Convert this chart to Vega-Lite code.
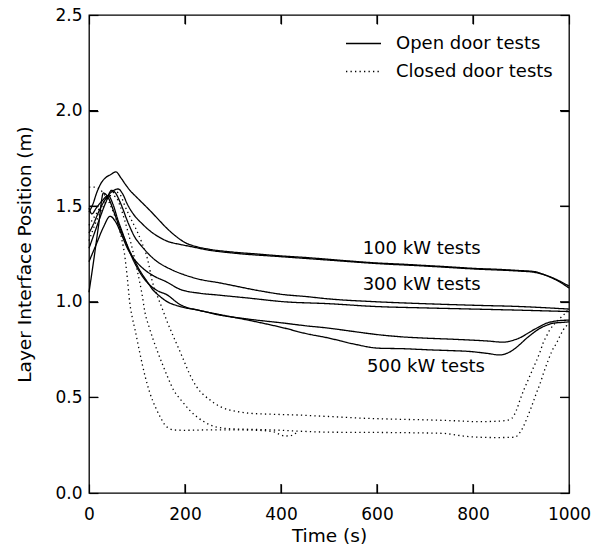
{
"$schema": "https://vega.github.io/schema/vega-lite/v6.json",
"width": 480,
"height": 478,
"autosize": {"type": "none"},
"padding": {"left": 89, "top": 15, "right": 31, "bottom": 59},
"background": "white",
"config": {
  "view": {"stroke": "black", "strokeWidth": 1.3},
  "font": "DejaVu Sans",
  "axis": {"domain": false, "grid": false, "tickColor": "black", "tickWidth": 1.2, "tickSize": -9, "labelFont": "DejaVu Sans", "labelFontSize": 17, "labelColor": "black", "titleFont": "DejaVu Sans", "titleFontSize": 18.5, "titleFontWeight": "normal", "titleColor": "black"}
},
"datasets": {
  "xticks": [{"time": 200}, {"time": 400}, {"time": 600}, {"time": 800}],
  "yticks": [{"height": 0.5}, {"height": 1.0}, {"height": 1.5}, {"height": 2.0}],
  "labels": [
    {"label": "100 kW tests", "time": 693, "height": 1.277},
    {"label": "300 kW tests", "time": 693, "height": 1.089},
    {"label": "500 kW tests", "time": 702, "height": 0.661}
  ],
  "curves": [
{"run":"100a","door":"Open door tests","time":0,"height":1.47},{"run":"100a","door":"Open door tests","time":8,"height":1.51},{"run":"100a","door":"Open door tests","time":16,"height":1.57},{"run":"100a","door":"Open door tests","time":25,"height":1.62},{"run":"100a","door":"Open door tests","time":35,"height":1.65},{"run":"100a","door":"Open door tests","time":45,"height":1.665},{"run":"100a","door":"Open door tests","time":56,"height":1.68},{"run":"100a","door":"Open door tests","time":66,"height":1.65},{"run":"100a","door":"Open door tests","time":77,"height":1.61},{"run":"100a","door":"Open door tests","time":88,"height":1.575},{"run":"100a","door":"Open door tests","time":98,"height":1.55},{"run":"100a","door":"Open door tests","time":112,"height":1.515},{"run":"100a","door":"Open door tests","time":126,"height":1.48},{"run":"100a","door":"Open door tests","time":143,"height":1.435},{"run":"100a","door":"Open door tests","time":160,"height":1.39},{"run":"100a","door":"Open door tests","time":180,"height":1.345},{"run":"100a","door":"Open door tests","time":200,"height":1.31},{"run":"100a","door":"Open door tests","time":225,"height":1.288},{"run":"100a","door":"Open door tests","time":250,"height":1.275},{"run":"100a","door":"Open door tests","time":300,"height":1.26},{"run":"100a","door":"Open door tests","time":350,"height":1.25},{"run":"100a","door":"Open door tests","time":400,"height":1.24},{"run":"100a","door":"Open door tests","time":450,"height":1.232},{"run":"100a","door":"Open door tests","time":500,"height":1.222},{"run":"100a","door":"Open door tests","time":550,"height":1.212},{"run":"100a","door":"Open door tests","time":600,"height":1.203},{"run":"100a","door":"Open door tests","time":650,"height":1.197},{"run":"100a","door":"Open door tests","time":700,"height":1.19},{"run":"100a","door":"Open door tests","time":750,"height":1.183},{"run":"100a","door":"Open door tests","time":800,"height":1.175},{"run":"100a","door":"Open door tests","time":850,"height":1.17},{"run":"100a","door":"Open door tests","time":900,"height":1.163},{"run":"100a","door":"Open door tests","time":926,"height":1.159},{"run":"100a","door":"Open door tests","time":945,"height":1.145},{"run":"100a","door":"Open door tests","time":960,"height":1.13},{"run":"100a","door":"Open door tests","time":980,"height":1.105},{"run":"100a","door":"Open door tests","time":1000,"height":1.072},
{"run":"100b","door":"Open door tests","time":0,"height":1.36},{"run":"100b","door":"Open door tests","time":10,"height":1.41},{"run":"100b","door":"Open door tests","time":20,"height":1.47},{"run":"100b","door":"Open door tests","time":35,"height":1.54},{"run":"100b","door":"Open door tests","time":50,"height":1.58},{"run":"100b","door":"Open door tests","time":61,"height":1.59},{"run":"100b","door":"Open door tests","time":70,"height":1.565},{"run":"100b","door":"Open door tests","time":80,"height":1.51},{"run":"100b","door":"Open door tests","time":95,"height":1.45},{"run":"100b","door":"Open door tests","time":110,"height":1.41},{"run":"100b","door":"Open door tests","time":125,"height":1.375},{"run":"100b","door":"Open door tests","time":145,"height":1.34},{"run":"100b","door":"Open door tests","time":165,"height":1.315},{"run":"100b","door":"Open door tests","time":190,"height":1.3},{"run":"100b","door":"Open door tests","time":220,"height":1.285},{"run":"100b","door":"Open door tests","time":245,"height":1.272},{"run":"100b","door":"Open door tests","time":300,"height":1.255},{"run":"100b","door":"Open door tests","time":400,"height":1.236},{"run":"100b","door":"Open door tests","time":500,"height":1.218},{"run":"100b","door":"Open door tests","time":600,"height":1.2},{"run":"100b","door":"Open door tests","time":700,"height":1.187},{"run":"100b","door":"Open door tests","time":800,"height":1.172},{"run":"100b","door":"Open door tests","time":900,"height":1.16},{"run":"100b","door":"Open door tests","time":926,"height":1.155},{"run":"100b","door":"Open door tests","time":950,"height":1.14},{"run":"100b","door":"Open door tests","time":975,"height":1.115},{"run":"100b","door":"Open door tests","time":1000,"height":1.082},
{"run":"300a","door":"Open door tests","time":0,"height":1.28},{"run":"300a","door":"Open door tests","time":10,"height":1.35},{"run":"300a","door":"Open door tests","time":20,"height":1.42},{"run":"300a","door":"Open door tests","time":35,"height":1.52},{"run":"300a","door":"Open door tests","time":47,"height":1.583},{"run":"300a","door":"Open door tests","time":55,"height":1.57},{"run":"300a","door":"Open door tests","time":65,"height":1.52},{"run":"300a","door":"Open door tests","time":82,"height":1.41},{"run":"300a","door":"Open door tests","time":95,"height":1.34},{"run":"300a","door":"Open door tests","time":110,"height":1.29},{"run":"300a","door":"Open door tests","time":137,"height":1.22},{"run":"300a","door":"Open door tests","time":172,"height":1.168},{"run":"300a","door":"Open door tests","time":200,"height":1.14},{"run":"300a","door":"Open door tests","time":235,"height":1.115},{"run":"300a","door":"Open door tests","time":270,"height":1.1},{"run":"300a","door":"Open door tests","time":300,"height":1.085},{"run":"300a","door":"Open door tests","time":350,"height":1.06},{"run":"300a","door":"Open door tests","time":408,"height":1.037},{"run":"300a","door":"Open door tests","time":450,"height":1.028},{"run":"300a","door":"Open door tests","time":500,"height":1.015},{"run":"300a","door":"Open door tests","time":600,"height":1.0},{"run":"300a","door":"Open door tests","time":700,"height":0.99},{"run":"300a","door":"Open door tests","time":800,"height":0.982},{"run":"300a","door":"Open door tests","time":900,"height":0.975},{"run":"300a","door":"Open door tests","time":1000,"height":0.962},
{"run":"300b","door":"Open door tests","time":0,"height":1.21},{"run":"300b","door":"Open door tests","time":15,"height":1.3},{"run":"300b","door":"Open door tests","time":30,"height":1.39},{"run":"300b","door":"Open door tests","time":44,"height":1.447},{"run":"300b","door":"Open door tests","time":55,"height":1.42},{"run":"300b","door":"Open door tests","time":68,"height":1.35},{"run":"300b","door":"Open door tests","time":80,"height":1.28},{"run":"300b","door":"Open door tests","time":95,"height":1.22},{"run":"300b","door":"Open door tests","time":110,"height":1.18},{"run":"300b","door":"Open door tests","time":135,"height":1.135},{"run":"300b","door":"Open door tests","time":160,"height":1.106},{"run":"300b","door":"Open door tests","time":190,"height":1.065},{"run":"300b","door":"Open door tests","time":230,"height":1.045},{"run":"300b","door":"Open door tests","time":270,"height":1.035},{"run":"300b","door":"Open door tests","time":330,"height":1.02},{"run":"300b","door":"Open door tests","time":408,"height":1.0},{"run":"300b","door":"Open door tests","time":500,"height":0.99},{"run":"300b","door":"Open door tests","time":600,"height":0.975},{"run":"300b","door":"Open door tests","time":700,"height":0.968},{"run":"300b","door":"Open door tests","time":800,"height":0.962},{"run":"300b","door":"Open door tests","time":900,"height":0.956},{"run":"300b","door":"Open door tests","time":1000,"height":0.949},
{"run":"500a","door":"Open door tests","time":0,"height":1.05},{"run":"500a","door":"Open door tests","time":10,"height":1.22},{"run":"500a","door":"Open door tests","time":20,"height":1.4},{"run":"500a","door":"Open door tests","time":30,"height":1.569},{"run":"500a","door":"Open door tests","time":40,"height":1.545},{"run":"500a","door":"Open door tests","time":52,"height":1.47},{"run":"500a","door":"Open door tests","time":63,"height":1.394},{"run":"500a","door":"Open door tests","time":74,"height":1.33},{"run":"500a","door":"Open door tests","time":84,"height":1.27},{"run":"500a","door":"Open door tests","time":95,"height":1.215},{"run":"500a","door":"Open door tests","time":105,"height":1.168},{"run":"500a","door":"Open door tests","time":120,"height":1.11},{"run":"500a","door":"Open door tests","time":133,"height":1.063},{"run":"500a","door":"Open door tests","time":147,"height":1.03},{"run":"500a","door":"Open door tests","time":160,"height":1.005},{"run":"500a","door":"Open door tests","time":190,"height":0.975},{"run":"500a","door":"Open door tests","time":230,"height":0.955},{"run":"500a","door":"Open door tests","time":269,"height":0.932},{"run":"500a","door":"Open door tests","time":330,"height":0.91},{"run":"500a","door":"Open door tests","time":408,"height":0.888},{"run":"500a","door":"Open door tests","time":450,"height":0.875},{"run":"500a","door":"Open door tests","time":500,"height":0.862},{"run":"500a","door":"Open door tests","time":550,"height":0.845},{"run":"500a","door":"Open door tests","time":606,"height":0.827},{"run":"500a","door":"Open door tests","time":650,"height":0.817},{"run":"500a","door":"Open door tests","time":700,"height":0.81},{"run":"500a","door":"Open door tests","time":750,"height":0.805},{"run":"500a","door":"Open door tests","time":794,"height":0.8},{"run":"500a","door":"Open door tests","time":830,"height":0.795},{"run":"500a","door":"Open door tests","time":863,"height":0.789},{"run":"500a","door":"Open door tests","time":885,"height":0.8},{"run":"500a","door":"Open door tests","time":898,"height":0.812},{"run":"500a","door":"Open door tests","time":912,"height":0.832},{"run":"500a","door":"Open door tests","time":926,"height":0.853},{"run":"500a","door":"Open door tests","time":940,"height":0.872},{"run":"500a","door":"Open door tests","time":953,"height":0.888},{"run":"500a","door":"Open door tests","time":967,"height":0.897},{"run":"500a","door":"Open door tests","time":981,"height":0.902},{"run":"500a","door":"Open door tests","time":1000,"height":0.904},
{"run":"500b","door":"Open door tests","time":0,"height":1.49},{"run":"500b","door":"Open door tests","time":6,"height":1.46},{"run":"500b","door":"Open door tests","time":15,"height":1.49},{"run":"500b","door":"Open door tests","time":28,"height":1.53},{"run":"500b","door":"Open door tests","time":40,"height":1.555},{"run":"500b","door":"Open door tests","time":50,"height":1.51},{"run":"500b","door":"Open door tests","time":60,"height":1.43},{"run":"500b","door":"Open door tests","time":70,"height":1.36},{"run":"500b","door":"Open door tests","time":80,"height":1.29},{"run":"500b","door":"Open door tests","time":90,"height":1.23},{"run":"500b","door":"Open door tests","time":100,"height":1.18},{"run":"500b","door":"Open door tests","time":115,"height":1.12},{"run":"500b","door":"Open door tests","time":130,"height":1.08},{"run":"500b","door":"Open door tests","time":145,"height":1.055},{"run":"500b","door":"Open door tests","time":160,"height":1.04},{"run":"500b","door":"Open door tests","time":190,"height":0.985},{"run":"500b","door":"Open door tests","time":230,"height":0.955},{"run":"500b","door":"Open door tests","time":269,"height":0.935},{"run":"500b","door":"Open door tests","time":330,"height":0.905},{"run":"500b","door":"Open door tests","time":408,"height":0.862},{"run":"500b","door":"Open door tests","time":450,"height":0.835},{"run":"500b","door":"Open door tests","time":500,"height":0.81},{"run":"500b","door":"Open door tests","time":550,"height":0.78},{"run":"500b","door":"Open door tests","time":606,"height":0.757},{"run":"500b","door":"Open door tests","time":650,"height":0.755},{"run":"500b","door":"Open door tests","time":716,"height":0.748},{"run":"500b","door":"Open door tests","time":750,"height":0.745},{"run":"500b","door":"Open door tests","time":794,"height":0.74},{"run":"500b","door":"Open door tests","time":830,"height":0.73},{"run":"500b","door":"Open door tests","time":856,"height":0.722},{"run":"500b","door":"Open door tests","time":870,"height":0.73},{"run":"500b","door":"Open door tests","time":884,"height":0.749},{"run":"500b","door":"Open door tests","time":898,"height":0.778},{"run":"500b","door":"Open door tests","time":912,"height":0.81},{"run":"500b","door":"Open door tests","time":926,"height":0.838},{"run":"500b","door":"Open door tests","time":940,"height":0.862},{"run":"500b","door":"Open door tests","time":953,"height":0.877},{"run":"500b","door":"Open door tests","time":967,"height":0.888},{"run":"500b","door":"Open door tests","time":985,"height":0.892},{"run":"500b","door":"Open door tests","time":1000,"height":0.895},
{"run":"c1","door":"Closed door tests","time":0,"height":1.6},{"run":"c1","door":"Closed door tests","time":12,"height":1.6},{"run":"c1","door":"Closed door tests","time":22,"height":1.59},{"run":"c1","door":"Closed door tests","time":32,"height":1.56},{"run":"c1","door":"Closed door tests","time":42,"height":1.52},{"run":"c1","door":"Closed door tests","time":52,"height":1.46},{"run":"c1","door":"Closed door tests","time":62,"height":1.39},{"run":"c1","door":"Closed door tests","time":68,"height":1.33},{"run":"c1","door":"Closed door tests","time":74,"height":1.25},{"run":"c1","door":"Closed door tests","time":80,"height":1.12},{"run":"c1","door":"Closed door tests","time":85,"height":0.993},{"run":"c1","door":"Closed door tests","time":90,"height":0.92},{"run":"c1","door":"Closed door tests","time":96,"height":0.853},{"run":"c1","door":"Closed door tests","time":106,"height":0.731},{"run":"c1","door":"Closed door tests","time":117,"height":0.609},{"run":"c1","door":"Closed door tests","time":127,"height":0.522},{"run":"c1","door":"Closed door tests","time":141,"height":0.435},{"run":"c1","door":"Closed door tests","time":150,"height":0.39},{"run":"c1","door":"Closed door tests","time":158,"height":0.356},{"run":"c1","door":"Closed door tests","time":167,"height":0.338},{"run":"c1","door":"Closed door tests","time":176,"height":0.33},{"run":"c1","door":"Closed door tests","time":200,"height":0.328},{"run":"c1","door":"Closed door tests","time":250,"height":0.33},{"run":"c1","door":"Closed door tests","time":300,"height":0.33},{"run":"c1","door":"Closed door tests","time":350,"height":0.328},{"run":"c1","door":"Closed door tests","time":385,"height":0.32},{"run":"c1","door":"Closed door tests","time":398,"height":0.305},{"run":"c1","door":"Closed door tests","time":408,"height":0.298},{"run":"c1","door":"Closed door tests","time":420,"height":0.3},{"run":"c1","door":"Closed door tests","time":432,"height":0.315},
{"run":"c2","door":"Closed door tests","time":0,"height":1.32},{"run":"c2","door":"Closed door tests","time":15,"height":1.42},{"run":"c2","door":"Closed door tests","time":30,"height":1.5},{"run":"c2","door":"Closed door tests","time":45,"height":1.555},{"run":"c2","door":"Closed door tests","time":55,"height":1.55},{"run":"c2","door":"Closed door tests","time":65,"height":1.5},{"run":"c2","door":"Closed door tests","time":75,"height":1.42},{"run":"c2","door":"Closed door tests","time":88,"height":1.3},{"run":"c2","door":"Closed door tests","time":100,"height":1.17},{"run":"c2","door":"Closed door tests","time":110,"height":1.046},{"run":"c2","door":"Closed door tests","time":117,"height":0.94},{"run":"c2","door":"Closed door tests","time":125,"height":0.87},{"run":"c2","door":"Closed door tests","time":134,"height":0.8},{"run":"c2","door":"Closed door tests","time":145,"height":0.725},{"run":"c2","door":"Closed door tests","time":155,"height":0.661},{"run":"c2","door":"Closed door tests","time":165,"height":0.6},{"run":"c2","door":"Closed door tests","time":176,"height":0.539},{"run":"c2","door":"Closed door tests","time":187,"height":0.5},{"run":"c2","door":"Closed door tests","time":197,"height":0.47},{"run":"c2","door":"Closed door tests","time":210,"height":0.432},{"run":"c2","door":"Closed door tests","time":224,"height":0.4},{"run":"c2","door":"Closed door tests","time":238,"height":0.375},{"run":"c2","door":"Closed door tests","time":252,"height":0.356},{"run":"c2","door":"Closed door tests","time":266,"height":0.345},{"run":"c2","door":"Closed door tests","time":280,"height":0.339},{"run":"c2","door":"Closed door tests","time":300,"height":0.335},{"run":"c2","door":"Closed door tests","time":335,"height":0.333},{"run":"c2","door":"Closed door tests","time":400,"height":0.328},{"run":"c2","door":"Closed door tests","time":450,"height":0.322},{"run":"c2","door":"Closed door tests","time":502,"height":0.318},{"run":"c2","door":"Closed door tests","time":570,"height":0.317},{"run":"c2","door":"Closed door tests","time":641,"height":0.316},{"run":"c2","door":"Closed door tests","time":700,"height":0.314},{"run":"c2","door":"Closed door tests","time":738,"height":0.312},{"run":"c2","door":"Closed door tests","time":760,"height":0.305},{"run":"c2","door":"Closed door tests","time":780,"height":0.298},{"run":"c2","door":"Closed door tests","time":811,"height":0.292},{"run":"c2","door":"Closed door tests","time":850,"height":0.29},{"run":"c2","door":"Closed door tests","time":887,"height":0.292},{"run":"c2","door":"Closed door tests","time":896,"height":0.31},{"run":"c2","door":"Closed door tests","time":905,"height":0.347},{"run":"c2","door":"Closed door tests","time":913,"height":0.395},{"run":"c2","door":"Closed door tests","time":922,"height":0.452},{"run":"c2","door":"Closed door tests","time":931,"height":0.515},{"run":"c2","door":"Closed door tests","time":940,"height":0.574},{"run":"c2","door":"Closed door tests","time":948,"height":0.635},{"run":"c2","door":"Closed door tests","time":957,"height":0.696},{"run":"c2","door":"Closed door tests","time":965,"height":0.745},{"run":"c2","door":"Closed door tests","time":974,"height":0.784},{"run":"c2","door":"Closed door tests","time":981,"height":0.82},{"run":"c2","door":"Closed door tests","time":988,"height":0.853},{"run":"c2","door":"Closed door tests","time":994,"height":0.872},{"run":"c2","door":"Closed door tests","time":1000,"height":0.89},
{"run":"c3","door":"Closed door tests","time":0,"height":1.4},{"run":"c3","door":"Closed door tests","time":15,"height":1.46},{"run":"c3","door":"Closed door tests","time":30,"height":1.52},{"run":"c3","door":"Closed door tests","time":45,"height":1.56},{"run":"c3","door":"Closed door tests","time":55,"height":1.575},{"run":"c3","door":"Closed door tests","time":65,"height":1.56},{"run":"c3","door":"Closed door tests","time":75,"height":1.5},{"run":"c3","door":"Closed door tests","time":88,"height":1.43},{"run":"c3","door":"Closed door tests","time":100,"height":1.37},{"run":"c3","door":"Closed door tests","time":110,"height":1.31},{"run":"c3","door":"Closed door tests","time":119,"height":1.25},{"run":"c3","door":"Closed door tests","time":125,"height":1.19},{"run":"c3","door":"Closed door tests","time":131,"height":1.115},{"run":"c3","door":"Closed door tests","time":141,"height":1.04},{"run":"c3","door":"Closed door tests","time":151,"height":0.975},{"run":"c3","door":"Closed door tests","time":163,"height":0.895},{"run":"c3","door":"Closed door tests","time":176,"height":0.818},{"run":"c3","door":"Closed door tests","time":187,"height":0.755},{"run":"c3","door":"Closed door tests","time":197,"height":0.696},{"run":"c3","door":"Closed door tests","time":210,"height":0.62},{"run":"c3","door":"Closed door tests","time":224,"height":0.556},{"run":"c3","door":"Closed door tests","time":238,"height":0.515},{"run":"c3","door":"Closed door tests","time":252,"height":0.487},{"run":"c3","door":"Closed door tests","time":262,"height":0.468},{"run":"c3","door":"Closed door tests","time":273,"height":0.452},{"run":"c3","door":"Closed door tests","time":290,"height":0.436},{"run":"c3","door":"Closed door tests","time":308,"height":0.426},{"run":"c3","door":"Closed door tests","time":335,"height":0.417},{"run":"c3","door":"Closed door tests","time":380,"height":0.412},{"run":"c3","door":"Closed door tests","time":433,"height":0.408},{"run":"c3","door":"Closed door tests","time":500,"height":0.4},{"run":"c3","door":"Closed door tests","time":572,"height":0.391},{"run":"c3","door":"Closed door tests","time":640,"height":0.386},{"run":"c3","door":"Closed door tests","time":710,"height":0.382},{"run":"c3","door":"Closed door tests","time":760,"height":0.378},{"run":"c3","door":"Closed door tests","time":811,"height":0.373},{"run":"c3","door":"Closed door tests","time":845,"height":0.375},{"run":"c3","door":"Closed door tests","time":870,"height":0.38},{"run":"c3","door":"Closed door tests","time":881,"height":0.391},{"run":"c3","door":"Closed door tests","time":890,"height":0.43},{"run":"c3","door":"Closed door tests","time":898,"height":0.487},{"run":"c3","door":"Closed door tests","time":906,"height":0.54},{"run":"c3","door":"Closed door tests","time":915,"height":0.592},{"run":"c3","door":"Closed door tests","time":924,"height":0.645},{"run":"c3","door":"Closed door tests","time":933,"height":0.696},{"run":"c3","door":"Closed door tests","time":940,"height":0.74},{"run":"c3","door":"Closed door tests","time":946,"height":0.784},{"run":"c3","door":"Closed door tests","time":953,"height":0.82},{"run":"c3","door":"Closed door tests","time":960,"height":0.853},{"run":"c3","door":"Closed door tests","time":969,"height":0.882},{"run":"c3","door":"Closed door tests","time":978,"height":0.906},{"run":"c3","door":"Closed door tests","time":986,"height":0.925},{"run":"c3","door":"Closed door tests","time":992,"height":0.94},{"run":"c3","door":"Closed door tests","time":1000,"height":0.965}
  ]
},
"layer": [
  {
    "data": {"name": "curves"},
    "mark": {"type": "line", "color": "black", "strokeWidth": 1.3, "interpolate": "monotone"},
    "encoding": {
      "x": {"field": "time", "type": "quantitative", "scale": {"domain": [0, 1000], "nice": false},
            "axis": {"orient": "bottom", "tickCount": 5, "format": "d", "labelPadding": 22, "labelFlush": false, "title": "Time (s)", "titleX": 240, "titleY": 42, "titleBaseline": "middle", "titleAlign": "center"}},
      "y": {"field": "height", "type": "quantitative", "scale": {"domain": [0, 2.5], "nice": false},
            "axis": {"orient": "left", "tickCount": 5, "format": ".1f", "labelPadding": 16, "labelFlush": false, "title": "Layer Interface Position (m)", "titleX": -65, "titleY": 239, "titleAngle": -90, "titleBaseline": "middle", "titleAlign": "center"}},
      "detail": {"field": "run", "type": "nominal"},
      "strokeDash": {"field": "door", "type": "nominal",
        "scale": {"domain": ["Open door tests", "Closed door tests"], "range": [[1, 0], [1.3, 3.2]]},
        "legend": {"title": null, "orient": "none", "legendX": 256, "legendY": 10, "padding": 0, "symbolType": "stroke", "symbolSize": 1225, "symbolStrokeWidth": 1.3, "symbolStrokeColor": "black", "labelFont": "DejaVu Sans", "labelFontSize": 18, "labelColor": "black", "labelOffset": 14, "rowPadding": 0}}
    }
  },
  {
    "data": {"name": "labels"},
    "mark": {"type": "text", "fontSize": 18, "font": "DejaVu Sans", "color": "black", "align": "center", "baseline": "middle"},
    "encoding": {
      "x": {"field": "time", "type": "quantitative", "axis": {"orient": "top", "tickCount": 5, "labels": false, "title": null}},
      "y": {"field": "height", "type": "quantitative", "axis": {"orient": "right", "tickCount": 5, "labels": false, "title": null}},
      "text": {"field": "label"}
    }
  },
  {
    "data": {"name": "xticks"},
    "mark": {"type": "rule", "color": "black", "strokeWidth": 1.2},
    "encoding": {
      "x": {"field": "time", "type": "quantitative", "axis": null},
      "y": {"datum": 0, "type": "quantitative", "axis": null},
      "y2": {"datum": 0.047}
    }
  },
  {
    "data": {"name": "xticks"},
    "mark": {"type": "rule", "color": "black", "strokeWidth": 1.2},
    "encoding": {
      "x": {"field": "time", "type": "quantitative", "axis": null},
      "y": {"datum": 2.5, "type": "quantitative", "axis": null},
      "y2": {"datum": 2.453}
    }
  },
  {
    "data": {"name": "yticks"},
    "mark": {"type": "rule", "color": "black", "strokeWidth": 1.2},
    "encoding": {
      "y": {"field": "height", "type": "quantitative", "axis": null},
      "x": {"datum": 0, "type": "quantitative", "axis": null},
      "x2": {"datum": 18.75}
    }
  },
  {
    "data": {"name": "yticks"},
    "mark": {"type": "rule", "color": "black", "strokeWidth": 1.2},
    "encoding": {
      "y": {"field": "height", "type": "quantitative", "axis": null},
      "x": {"datum": 1000, "type": "quantitative", "axis": null},
      "x2": {"datum": 981.25}
    }
  }
],
"resolve": {"axis": {"x": "independent", "y": "independent"}}
}
